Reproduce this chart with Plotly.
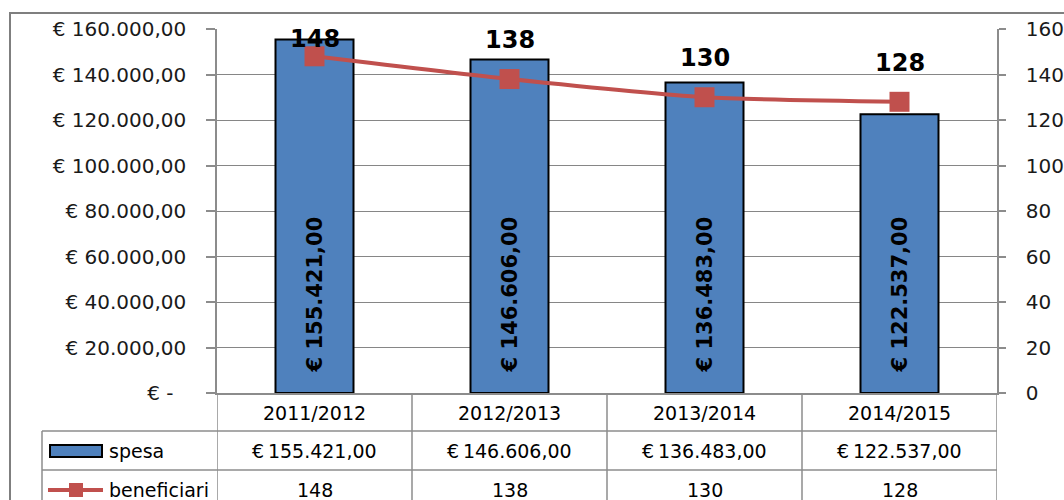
import plotly.graph_objects as go

# ---- data ----
categories = ["2011/2012", "2012/2013", "2013/2014", "2014/2015"]
spesa = [155421.00, 146606.00, 136483.00, 122537.00]
beneficiari = [148, 138, 130, 128]
left_ticks = [0, 20000, 40000, 60000, 80000, 100000, 120000, 140000, 160000]
right_ticks = [0, 20, 40, 60, 80, 100, 120, 140, 160]
series_names = ["spesa", "beneficiari"]

BLUE = "#4F81BD"
RED = "#C0504D"
GRID = "#868686"
FONT = "DejaVu Sans"


def it_num(v):
    s = f"{v:,.2f}"
    return s.replace(",", "X").replace(".", ",").replace("X", ".")


left_text = [("€ " + it_num(v)) if v else "€ -\u00a0\u00a0" for v in left_ticks]

# pixel geometry helpers (plot area: x 217..997, y 29..393)
PL, PR, PT, PB = 217, 997, 29, 393
W, H = 1064, 500
Y2MAX = right_ticks[-1]


def px(x):
    return (x - PL) / (PR - PL)


def py(y):
    return (PB - y) / (PB - PT)


fig = go.Figure()

fig.add_trace(go.Bar(
    x=categories, y=spesa, name=series_names[0], yaxis="y",
    marker=dict(color=BLUE, line=dict(color="black", width=2)),
    hoverinfo="skip",
))

fig.add_trace(go.Scatter(
    x=categories, y=beneficiari, name=series_names[1], yaxis="y2",
    mode="lines+markers",
    line=dict(color=RED, width=4, shape="spline", smoothing=0.6),
    marker=dict(symbol="square", size=20, color=RED),
    cliponaxis=False,
    hoverinfo="skip",
))

annotations = []
# line value labels (placed above the point, kept inside the plot area)
LABEL_OFFSET = 39
LABEL_MIN_CENTER = PT + 10
for c, b in zip(categories, beneficiari):
    mk = PB - b / Y2MAX * (PB - PT)
    center = max(mk - LABEL_OFFSET, LABEL_MIN_CENTER)
    annotations.append(dict(
        x=c, y=b, xref="x", yref="y2", text=str(b), showarrow=False,
        yanchor="middle", yshift=mk - center,
        font=dict(family=FONT, size=24, color="black", weight="bold"),
    ))
# rotated value labels inside bars
for c, v in zip(categories, spesa):
    annotations.append(dict(
        x=c, y=0, xref="x", yref="y", text="€ " + it_num(v),
        textangle=-90, showarrow=False, yanchor="bottom", xanchor="center",
        yshift=18, font=dict(family=FONT, size=21, color="black", weight="bold"),
    ))

# data table text
tfont = dict(family=FONT, size=19, color="black")
for c, v, b in zip(categories, spesa, beneficiari):
    annotations.append(dict(x=c, y=py(413), xref="x", yref="paper", text=c,
                            xanchor="center", yanchor="middle", showarrow=False, font=tfont))
    annotations.append(dict(x=c, y=py(451), xref="x", yref="paper", text="€\u2009" + it_num(v),
                            xanchor="center", yanchor="middle", showarrow=False, font=tfont))
    annotations.append(dict(x=c, y=py(490), xref="x", yref="paper", text=str(b),
                            xanchor="center", yanchor="middle", showarrow=False, font=tfont))

annotations.append(dict(x=px(107), y=py(451), xref="paper", yref="paper", text=series_names[0],
                        xanchor="left", yanchor="middle", showarrow=False, font=tfont))
annotations.append(dict(x=px(107), y=py(490), xref="paper", yref="paper", text=series_names[1],
                        xanchor="left", yanchor="middle", showarrow=False, font=tfont))

shapes = []
LINEC = "#8C8C8C"
# outer chart border
shapes.append(dict(type="rect", xref="paper", yref="paper", x0=px(10), y0=py(13), x1=px(1100), y1=py(560),
                   line=dict(color="#7F7F7F", width=2), fillcolor="rgba(0,0,0,0)", layer="below"))
# table horizontal lines
for yy in (431, 470):
    shapes.append(dict(type="line", xref="paper", yref="paper", x0=px(42), x1=1, y0=py(yy), y1=py(yy),
                       line=dict(color=LINEC, width=1.5)))
# table left border
shapes.append(dict(type="line", xref="paper", yref="paper", x0=px(42), x1=px(42), y0=py(431), y1=py(520),
                   line=dict(color=LINEC, width=1.5)))
# table vertical lines at category boundaries
for k in range(len(categories) + 1):
    shapes.append(dict(type="line", xref="x", yref="paper", x0=k - 0.5, x1=k - 0.5, y0=0, y1=py(520),
                       line=dict(color=LINEC, width=1.5)))
# legend keys
shapes.append(dict(type="rect", xref="paper", yref="paper", x0=px(50), x1=px(102), y0=py(445), y1=py(457),
                   fillcolor=BLUE, line=dict(color="black", width=2)))
shapes.append(dict(type="line", xref="paper", yref="paper", x0=px(48), x1=px(103), y0=py(490), y1=py(490),
                   line=dict(color=RED, width=4)))
shapes.append(dict(type="rect", xref="paper", yref="paper", x0=px(69), x1=px(83), y0=py(483), y1=py(497),
                   fillcolor=RED, line=dict(color=RED, width=0)))

fig.update_layout(
    width=W, height=H,
    margin=dict(l=PL, r=W - PR, t=PT, b=H - PB, pad=0, autoexpand=False),
    paper_bgcolor="white", plot_bgcolor="white",
    showlegend=False, bargap=0.6,
    font=dict(family=FONT, size=19, color="black"),
    xaxis=dict(type="category", showticklabels=False, ticks="", showgrid=False,
               showline=True, linecolor=LINEC, linewidth=1.5, zeroline=False,
               range=[-0.5, len(categories) - 0.5], fixedrange=True, automargin=False),
    yaxis=dict(range=[0, left_ticks[-1]], tickvals=left_ticks, ticktext=left_text,
               showgrid=True, gridcolor=GRID, gridwidth=1,
               showline=True, linecolor=LINEC, linewidth=1.5,
               ticks="outside", ticklen=9, tickcolor=LINEC, tickwidth=1.5,
               ticklabelstandoff=16, zeroline=False, fixedrange=True, automargin=False,
               tickfont=dict(family=FONT, size=20, color="#1a1a1a")),
    yaxis2=dict(range=[0, Y2MAX], tickvals=right_ticks, overlaying="y", side="right",
                showgrid=False, showline=True, linecolor=LINEC, linewidth=1.5,
                ticks="outside", ticklen=7, tickcolor=LINEC, tickwidth=1.5,
                ticklabelstandoff=16, zeroline=False, fixedrange=True, automargin=False,
                tickfont=dict(family=FONT, size=20, color="#1a1a1a")),
    annotations=annotations,
    shapes=shapes,
)

fig.write_html(
    "out.html",
    config={"displayModeBar": False},
    post_script="document.body.style.margin='0';document.body.style.overflow='hidden';",
)
